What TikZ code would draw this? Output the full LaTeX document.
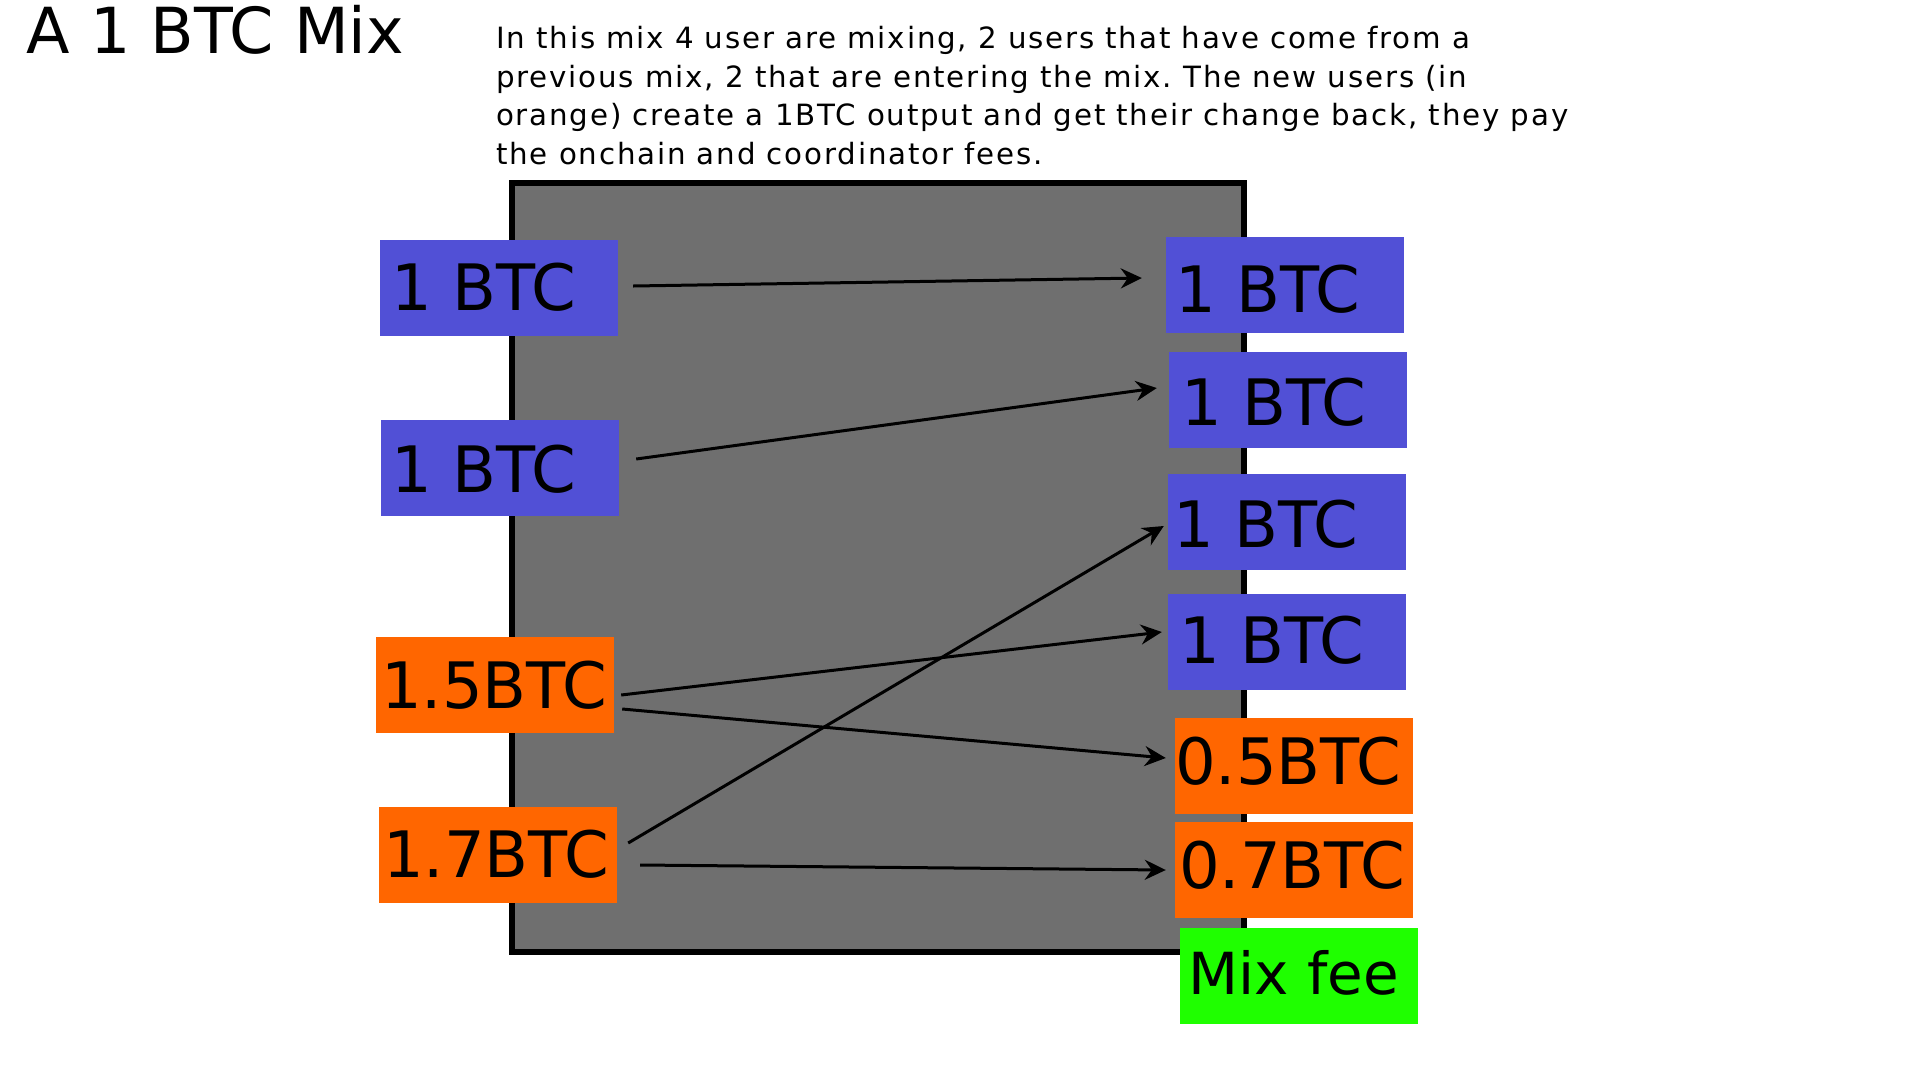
\documentclass[tikz,border=0pt]{standalone}
\usepackage{fontspec}
\setmainfont{DejaVu Sans}
\newfontfamily\parafont[LetterSpace=6.2]{DejaVu Sans}
\usetikzlibrary{arrows.meta}
\definecolor{mixgray}{HTML}{6F6F6F}
\definecolor{btcblue}{HTML}{5150D6}
\definecolor{btcorange}{HTML}{FF6600}
\definecolor{feegreen}{HTML}{1FFF00}
\frenchspacing
\tikzset{
  coinbox/.style={rectangle, inner sep=0pt, minimum width=238pt, minimum height=96pt},
  bluebox/.style={coinbox, fill=btcblue},
  orangebox/.style={coinbox, fill=btcorange},
  feebox/.style={coinbox, fill=feegreen},
  coinlabel/.style={anchor=base west, inner sep=0pt, font=\fontsize{64}{76}\selectfont},
  paraline/.style={anchor=base west, inner sep=0pt, font=\parafont\fontsize{29.3}{38}\selectfont},
  flow/.style={line width=3pt, -{Stealth[length=21pt,width=20pt,inset=7pt]}},
}
\begin{document}
\begin{tikzpicture}[x=1pt,y=-1pt]
\useasboundingbox (0,0) rectangle (1920,1080);
\fill[white] (0,0) rectangle (1920,1080);

% title and description
\node[anchor=base west, inner sep=0pt, font=\fontsize{63.5}{76}\selectfont] (title) at (26.5,53) {A 1 BTC Mix};
\node[paraline] (p1) at (496,48) {In this mix 4 user are mixing, 2 users that have come from a};
\node[paraline] (p2) at (496,87) {previous mix, 2 that are entering the mix. The new users (in};
\node[paraline] (p3) at (496,125.5) {orange) create a 1BTC output and get their change back, they pay};
\node[paraline] (p4) at (496,164) {the onchain and coordinator fees.};

% mix box
\node[draw=black, line width=6pt, fill=mixgray, inner sep=0pt, minimum width=732pt, minimum height=769pt] (mix) at (878,567.5) {};

% inputs
\node[bluebox] (l1) at (499,288) {};
\node[bluebox] (l2) at (500,468) {};
\node[orangebox] (l3) at (495,685) {};
\node[orangebox] (l4) at (498,855) {};
\node[coinlabel] (l1t) at (391,310) {1 BTC};
\node[coinlabel] (l2t) at (391,492) {1 BTC};
\node[coinlabel] (l3t) at (381,708) {1.5BTC};
\node[coinlabel] (l4t) at (383,877) {1.7BTC};

% outputs
\node[bluebox] (r1) at (1285,285) {};
\node[bluebox] (r2) at (1288,400) {};
\node[bluebox] (r3) at (1287,522) {};
\node[bluebox] (r4) at (1287,642) {};
\node[orangebox] (r5) at (1294,766) {};
\node[orangebox] (r6) at (1294,870) {};
\node[feebox] (fee) at (1299,976) {};
\node[coinlabel] (r1t) at (1175,312) {1 BTC};
\node[coinlabel] (r2t) at (1181,425) {1 BTC};
\node[coinlabel] (r3t) at (1173,547) {1 BTC};
\node[coinlabel] (r4t) at (1179,663) {1 BTC};
\node[coinlabel] (r5t) at (1175,784) {0.5BTC};
\node[coinlabel] (r6t) at (1179,888) {0.7BTC};
\node[coinlabel, font=\fontsize{58}{70}\selectfont] (feet) at (1188.3,994) {Mix fee};

% flows
\draw[flow] ([xshift=15pt,yshift=2pt]l1.east) -- ([xshift=-24pt,yshift=7pt]r1.west);
\draw[flow] ([xshift=17pt,yshift=9pt]l2.east) -- ([xshift=-12pt,yshift=12pt]r2.west);
\draw[flow] ([xshift=11pt,yshift=12pt]l4.east) -- ([xshift=-4pt,yshift=-4pt]r3.west);
\draw[flow] ([xshift=7pt,yshift=-10pt]l3.east) -- ([xshift=-6pt,yshift=10pt]r4.west);
\draw[flow] ([xshift=8pt,yshift=-24pt]l3.east) -- ([xshift=-9pt,yshift=8pt]r5.west);
\draw[flow] ([xshift=23pt,yshift=-10pt]l4.east) -- ([xshift=-9pt,yshift=0pt]r6.west);
\end{tikzpicture}
\end{document}
